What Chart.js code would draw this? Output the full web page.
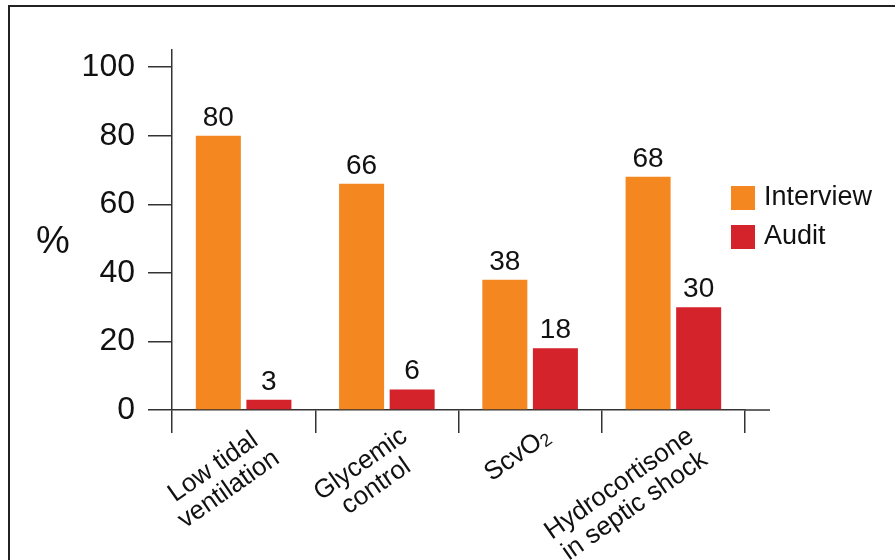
<!DOCTYPE html>
<html lang="en">
<head>
<meta charset="UTF-8">
<title>Interview vs Audit</title>
<script src="https://cdn.jsdelivr.net/npm/chart.js"></script>
<style>
  html, body { margin: 0; padding: 0; background: #fff; }
  #wrap { width: 895px; height: 560px; position: relative; }
</style>
</head>
<body>
<div id="wrap"><canvas id="chart"></canvas></div>
<script>
// data
const categories = [['Low tidal', 'ventilation'], ['Glycemic', 'control'], ['ScvO₂'], ['Hydrocortisone', 'in septic shock']];
const interview = [80, 66, 38, 68];
const audit = [3, 6, 18, 30];
const yTicks = [0, 20, 40, 60, 80, 100];

const FONT = '"Liberation Sans", Arial, Helvetica, sans-serif';
const INK = '#111';
const ORANGE = '#f58720';
const RED = '#d5232b';
const LABEL_SIZE = 26;
const SUB_SIZE = 18;

// split a line into normal / subscript runs ("₂" -> small "2")
function runs(text) {
    const out = [];
    for (const ch of text) {
        const sub = ch === '₂';
        const t = sub ? '2' : ch;
        if (out.length && out[out.length - 1].sub === sub) out[out.length - 1].t += t;
        else out.push({ t, sub });
    }
    return out;
}

function runFont(sub) {
    return `${sub ? SUB_SIZE : LABEL_SIZE}px ${FONT}`;
}

function lineWidth(ctx, text) {
    return runs(text).reduce((w, r) => {
        ctx.font = runFont(r.sub);
        return w + ctx.measureText(r.t).width;
    }, 0);
}

// draws a line centred on cx with its top at y
function drawLine(ctx, text, cx, y) {
    let xPos = cx - lineWidth(ctx, text) / 2;
    ctx.textAlign = 'left';
    ctx.textBaseline = 'alphabetic';
    runs(text).forEach(r => {
        ctx.font = runFont(r.sub);
        ctx.fillText(r.t, xPos, y + LABEL_SIZE * 0.92 + (r.sub ? 3 : 0));
        xPos += ctx.measureText(r.t).width;
    });
}

// frame, value labels, rotated category labels, "%" and legend
const decor = {
    id: 'decor',
    afterDraw(chart) {
        const { ctx, chartArea: a, scales: { x, y } } = chart;
        const base = y.getPixelForValue(0);
        ctx.save();

        ctx.strokeStyle = '#222';
        ctx.lineWidth = 2;
        ctx.strokeRect(9, 6, chart.width + 20, chart.height + 20);

        // axis line runs a bit past the last category
        ctx.strokeStyle = '#333';
        ctx.lineWidth = 1.5;
        ctx.beginPath();
        ctx.moveTo(a.right, base);
        ctx.lineTo(a.right + 25, base);
        ctx.stroke();

        ctx.fillStyle = INK;
        ctx.font = `38px ${FONT}`;
        ctx.textAlign = 'center';
        ctx.textBaseline = 'middle';
        ctx.fillText('%', 53, 243);

        // values above bars
        ctx.font = `28px ${FONT}`;
        ctx.textBaseline = 'alphabetic';
        chart.data.datasets.forEach((ds, i) => {
            chart.getDatasetMeta(i).data.forEach((bar, j) => {
                ctx.fillText(String(ds.data[j]), bar.x, bar.y - 10);
            });
        });

        // category labels, rotated, lines centred on each other
        const ang = -35 * Math.PI / 180;
        chart.data.labels.forEach((lines, i) => {
            const cx = x.getPixelForValue(i);
            const w = Math.max(...lines.map(l => lineWidth(ctx, l)));
            ctx.save();
            ctx.translate(cx + 8, base + 10);
            ctx.rotate(ang);
            lines.forEach((l, k) => drawLine(ctx, l, -w / 2, k * 27));
            ctx.restore();
        });

        // legend
        ctx.font = `27px ${FONT}`;
        ctx.textAlign = 'left';
        ctx.textBaseline = 'middle';
        chart.data.datasets.forEach((ds, i) => {
            const top = 186 + i * 39;
            ctx.fillStyle = ds.backgroundColor;
            ctx.fillRect(a.right - 14, top, 24, 24);
            ctx.fillStyle = INK;
            ctx.fillText(ds.label, a.right + 19, top + 12);
        });
        ctx.restore();
    }
};

new Chart(document.getElementById('chart'), {
    type: 'bar',
    data: {
        labels: categories,
        datasets: [
            { label: 'Interview', data: interview, backgroundColor: ORANGE },
            { label: 'Audit', data: audit, backgroundColor: RED }
        ]
    },
    options: {
        responsive: true,
        maintainAspectRatio: false,
        animation: false,
        layout: { padding: { top: 50, right: 150, left: 0, bottom: 0 } },
        datasets: {
            bar: { categoryPercentage: 0.706, barPercentage: 0.89 }
        },
        plugins: {
            legend: { display: false },
            tooltip: { enabled: false }
        },
        scales: {
            x: {
                offset: true,
                grid: { offset: true, drawOnChartArea: false, tickLength: 23, color: '#333', lineWidth: 1.5 },
                border: { color: '#333', width: 1.5 },
                ticks: { display: false },
                afterFit: s => { s.height = 150; }
            },
            y: {
                min: 0,
                max: 105,
                afterBuildTicks: s => { s.ticks = yTicks.map(v => ({ value: v })); },
                grid: { drawOnChartArea: false, tickLength: 24, color: '#333', lineWidth: 1.5 },
                border: { color: '#333', width: 1.5 },
                ticks: { padding: 13, color: INK, font: { family: FONT, size: 32 } },
                afterFit: s => { s.width = 172; }
            }
        }
    },
    plugins: [decor]
});
</script>
</body>
</html>
